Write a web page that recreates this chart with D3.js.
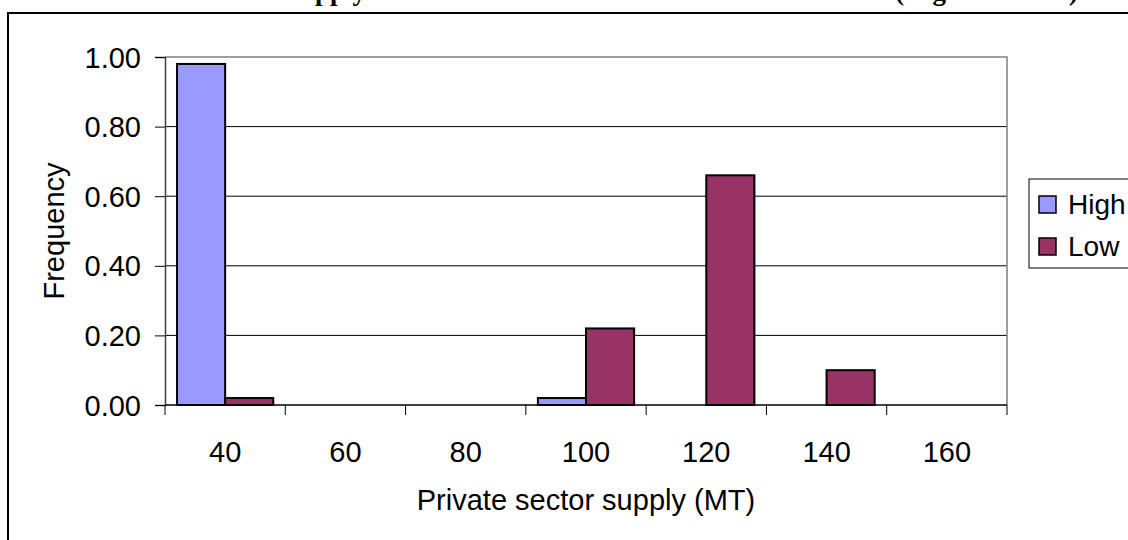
<!DOCTYPE html>
<html>
<head>
<style>
  body { margin: 0; background: #fff; }
  svg { display: block; font-family: "Liberation Sans", Arial, sans-serif; }
  .title { font-family: "Liberation Serif", "Times New Roman", serif; font-weight: bold; font-size: 27px; }
  .tick text { font-size: 29px; fill: #000; }
</style>
</head>
<body>
<script src="https://cdn.jsdelivr.net/npm/d3@7"></script>
<script>
const bins = ["40", "60", "80", "100", "120", "140", "160"];
const seriesNames = ["High", "Low"];
const highValues = [0.98, 0, 0, 0.02, 0, 0, 0];
const lowValues = [0.02, 0, 0, 0.22, 0.66, 0.10, 0];
const yTicks = [0, 0.2, 0.4, 0.6, 0.8, 1.0];
const colors = ["#9999ff", "#993366"];

const width = 1128, height = 540;
const plot = { left: 165, right: 1007, top: 57, bottom: 405 };

const svg = d3.select("body").append("svg")
  .attr("width", width).attr("height", height);

// outer chart frame (runs off the picture on right and bottom)
svg.append("rect")
  .attr("x", 8).attr("y", 13)
  .attr("width", 1200).attr("height", 600)
  .attr("fill", "#fff").attr("stroke", "#000").attr("stroke-width", 2);

// title, clipped by the top edge as in the source
svg.append("text").attr("class", "title")
  .attr("x", 1078).attr("y", 0)
  .attr("text-anchor", "end")
  .text("Private sector supply distribution under both alternative scenarios (High and Low)");

const x0 = d3.scaleBand().domain(bins)
  .range([plot.left, plot.right])
  .paddingInner(0.2).paddingOuter(0.1);
const x1 = d3.scaleBand().domain(seriesNames).range([0, x0.bandwidth()]);
const y = d3.scaleLinear().domain([0, 1]).range([plot.bottom, plot.top]);

// grid lines
svg.append("g").selectAll("line")
  .data(yTicks.filter(d => d > 0 && d < 1))
  .join("line")
  .attr("x1", plot.left).attr("x2", plot.right)
  .attr("y1", d => y(d)).attr("y2", d => y(d))
  .attr("stroke", "#000").attr("stroke-width", 1);

// plot area border top / right
svg.append("path")
  .attr("d", `M${plot.left},${y(1)}H${plot.right}V${plot.bottom}`)
  .attr("fill", "none").attr("stroke", "#808080").attr("stroke-width", 1.5);

// bars
const rows = bins.map((b, i) => ({ bin: b, values: [highValues[i], lowValues[i]] }));
const groups = svg.append("g").selectAll("g")
  .data(rows).join("g")
  .attr("transform", d => `translate(${x0(d.bin)},0)`);
groups.selectAll("rect")
  .data(d => d.values.map((v, j) => ({ name: seriesNames[j], v, j })).filter(e => e.v > 0))
  .join("rect")
  .attr("x", d => x1(d.name))
  .attr("y", d => y(d.v))
  .attr("width", x1.bandwidth())
  .attr("height", d => y(0) - y(d.v))
  .attr("fill", d => colors[d.j])
  .attr("stroke", "#000").attr("stroke-width", 2);

// y axis
const yAxis = svg.append("g")
  .attr("transform", `translate(${plot.left},0)`)
  .call(d3.axisLeft(y).tickValues(yTicks).tickFormat(d3.format(".2f")).tickSize(10).tickPadding(14));
yAxis.select(".domain").attr("stroke", "#404040").attr("stroke-width", 1.5);
yAxis.selectAll(".tick line").attr("stroke", "#000");
yAxis.selectAll(".tick text").attr("dy", "0.35em").style("font-family", "Liberation Sans, Arial, sans-serif");

// x axis: ticks at bin boundaries, labels at centres
const half = x0.step() * x0.paddingInner() / 2;
const bounds = bins.map(b => x0(b) - half).concat([x0(bins[bins.length - 1]) + x0.bandwidth() + half]);
const xAxis = svg.append("g");
xAxis.append("line")
  .attr("x1", plot.left).attr("x2", plot.right)
  .attr("y1", plot.bottom).attr("y2", plot.bottom)
  .attr("stroke", "#000").attr("stroke-width", 1.5);
xAxis.selectAll("line.tk").data(bounds).join("line").attr("class", "tk")
  .attr("x1", d => d).attr("x2", d => d)
  .attr("y1", plot.bottom).attr("y2", plot.bottom + 10)
  .attr("stroke", "#000");
xAxis.selectAll("text").data(bins).join("text")
  .attr("x", d => x0(d) + x0.bandwidth() / 2)
  .attr("y", 462)
  .attr("text-anchor", "middle")
  .style("font-size", "29px")
  .text(d => d);

// axis titles
svg.append("text")
  .attr("x", (plot.left + plot.right) / 2).attr("y", 510)
  .attr("text-anchor", "middle").style("font-size", "29px")
  .text("Private sector supply (MT)");
svg.append("text")
  .attr("transform", `translate(64,${(plot.top + plot.bottom) / 2}) rotate(-90)`)
  .attr("text-anchor", "middle").style("font-size", "29px")
  .text("Frequency");

// legend
const legend = svg.append("g");
legend.append("rect")
  .attr("x", 1029).attr("y", 179).attr("width", 200).attr("height", 89)
  .attr("fill", "#fff").attr("stroke", "#000").attr("stroke-width", 1);
const item = legend.selectAll("g.item").data(seriesNames).join("g").attr("class", "item")
  .attr("transform", (d, i) => `translate(1039,${196 + i * 42})`);
item.append("rect")
  .attr("width", 17).attr("height", 17)
  .attr("fill", (d, i) => colors[i])
  .attr("stroke", "#000").attr("stroke-width", 1.5);
item.append("text")
  .attr("x", 29).attr("y", 18)
  .style("font-size", "28px")
  .text(d => d);
</script>
</body>
</html>
